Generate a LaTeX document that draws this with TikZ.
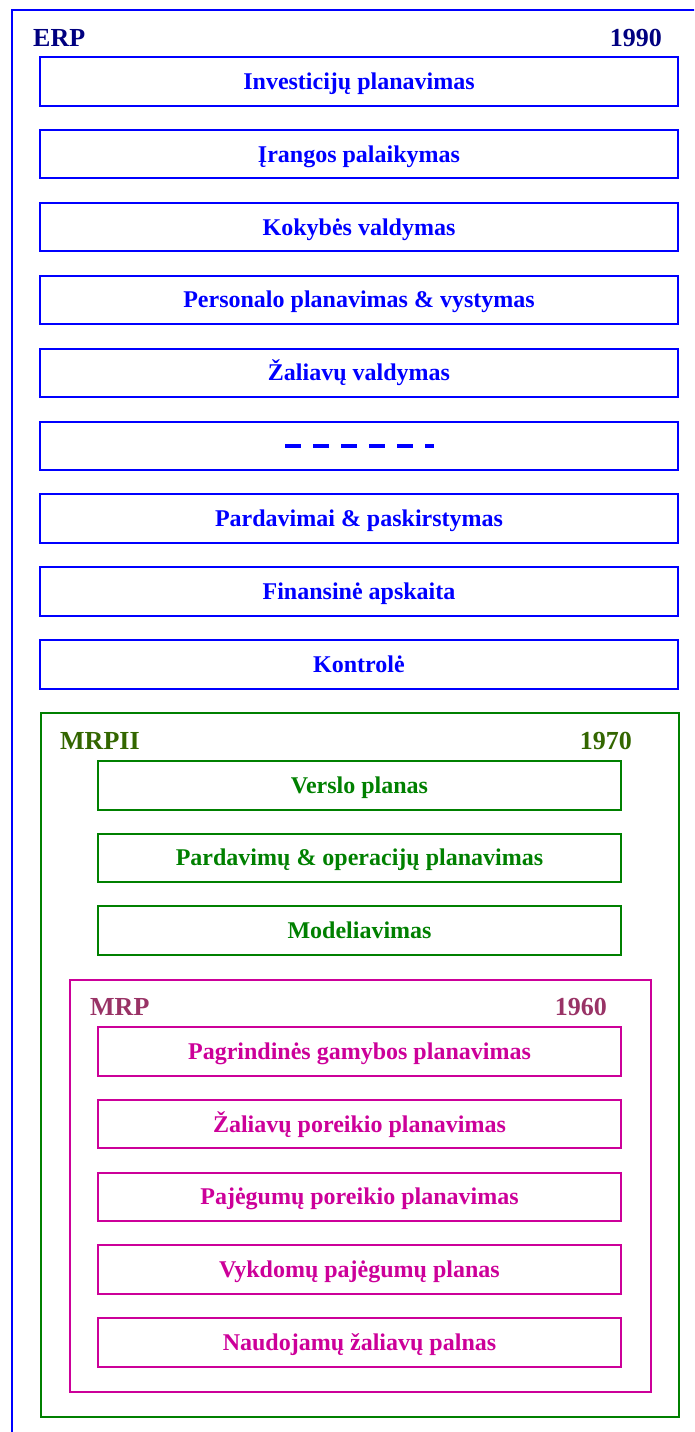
\documentclass[tikz,border=0pt]{standalone}
\usepackage{fontspec}
\setmainfont{Liberation Serif}
\definecolor{erpblue}{RGB}{0,0,255}
\definecolor{erpnavy}{RGB}{0,0,128}
\definecolor{mrpiigreen}{RGB}{0,128,0}
\definecolor{mrpiiolive}{RGB}{51,102,0}
\definecolor{mrpmagenta}{RGB}{204,0,153}
\definecolor{mrpplum}{RGB}{153,51,102}
\tikzset{
  itembox/.style={draw, line width=2pt, inner sep=0pt, minimum height=48.5pt,
    font=\fontsize{24}{28}\selectfont\bfseries, text height=16pt, text depth=0pt},
  erpbox/.style={itembox, draw=erpblue, text=erpblue, minimum width=638pt},
  mrpiibox/.style={itembox, draw=mrpiigreen, text=mrpiigreen, minimum width=523pt},
  mrpbox/.style={itembox, draw=mrpmagenta, text=mrpmagenta, minimum width=523pt},
  frame/.style={draw, line width=2pt, inner sep=0pt},
  header/.style={inner sep=0pt, font=\fontsize{26}{30}\selectfont\bfseries},
}
\begin{document}
\begin{tikzpicture}[x=1pt,y=-1pt]
\useasboundingbox (0,0) rectangle (694,1432);
\clip (0,0) rectangle (694,1432);

% ERP level
\node[frame, draw=erpblue, minimum width=720pt, minimum height=1460pt, anchor=north west] (erp) at (11,9) {};
\node[header, text=erpnavy, anchor=base west] (erplbl) at (33,46) {ERP};
\node[header, text=erpnavy, anchor=base east] (erpyear) at (662,46) {1990};

\node[erpbox] (e1) at (359,81.25)  {Investicijų planavimas};
\node[erpbox] (e2) at (359,154.15) {Įrangos palaikymas};
\node[erpbox] (e3) at (359,227.05) {Kokybės valdymas};
\node[erpbox] (e4) at (359,299.95) {Personalo planavimas \& vystymas};
\node[erpbox] (e5) at (359,372.85) {Žaliavų valdymas};
\node[erpbox] (e6) at (359,445.75) {};
\draw[erpblue, line width=4pt, dash pattern=on 16pt off 12pt]
  ([xshift=-74pt]e6.center) -- ([xshift=75pt]e6.center);
\node[erpbox] (e7) at (359,518.65) {Pardavimai \& paskirstymas};
\node[erpbox] (e8) at (359,591.55) {Finansinė apskaita};
\node[erpbox] (e9) at (359,664.45) {Kontrolė};

% MRPII level
\node[frame, draw=mrpiigreen, minimum width=638pt, minimum height=704pt, anchor=north west] (mrpii) at (40,712) {};
\node[header, text=mrpiiolive, anchor=base west] (mrpiilbl) at (60,749) {MRPII};
\node[header, text=mrpiiolive, anchor=base east] (mrpiiyear) at (632,749) {1970};

\node[mrpiibox] (g1) at (359.5,785.25) {Verslo planas};
\node[mrpiibox] (g2) at (359.5,857.85) {Pardavimų \& operacijų planavimas};
\node[mrpiibox] (g3) at (359.5,930.45) {Modeliavimas};

% MRP level
\node[frame, draw=mrpmagenta, minimum width=581pt, minimum height=412pt, anchor=north west] (mrp) at (69,979) {};
\node[header, text=mrpplum, anchor=base west] (mrplbl) at (90,1015) {MRP};
\node[header, text=mrpplum, anchor=base east] (mrpyear) at (607,1015) {1960};

\node[mrpbox] (m1) at (359.5,1051.25) {Pagrindinės gamybos planavimas};
\node[mrpbox] (m2) at (359.5,1124.05) {Žaliavų poreikio planavimas};
\node[mrpbox] (m3) at (359.5,1196.85) {Pajėgumų poreikio planavimas};
\node[mrpbox] (m4) at (359.5,1269.65) {Vykdomų pajėgumų planas};
\node[mrpbox] (m5) at (359.5,1342.45) {Naudojamų žaliavų palnas};
\end{tikzpicture}
\end{document}
